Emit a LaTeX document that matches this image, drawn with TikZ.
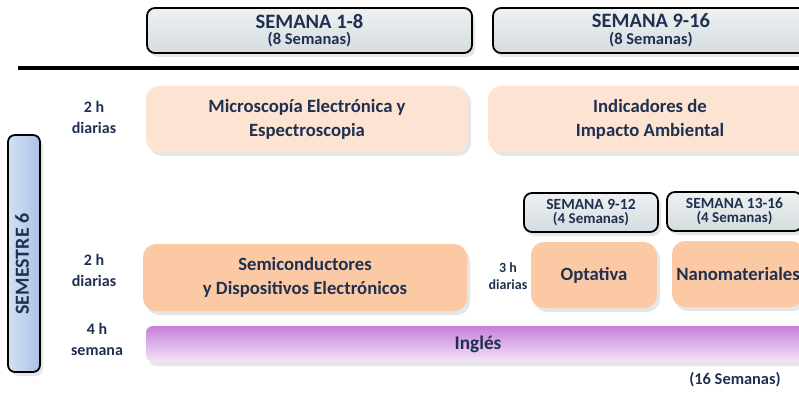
\documentclass[tikz,border=0pt]{standalone}
\usepackage{fontspec}
\setmainfont{Carlito}
\usetikzlibrary{shadows}
\definecolor{azul}{HTML}{1F3050}
\definecolor{gris1}{HTML}{EEF1F2}
\definecolor{gris2}{HTML}{D5DCDF}
\definecolor{durazno}{HTML}{FDE3D2}
\definecolor{naranja}{HTML}{FCC9A5}
\definecolor{lila1}{HTML}{C67FD9}
\definecolor{lila2}{HTML}{F4E6F8}
\definecolor{celeste1}{HTML}{D3E0F3}
\definecolor{celeste2}{HTML}{ABC2E6}
\begin{document}
\begin{tikzpicture}[x=1pt, y=-1pt,
    sombra/.style={drop shadow={opacity=0.2, shadow xshift=3pt, shadow yshift=-4pt}},
    semana/.style={draw=black, line width=1.8pt, rounded corners=8pt, top color=gris1, bottom color=gris2,
        align=center, text=azul, inner sep=0pt, sombra},
    materia/.style={rounded corners=13pt, align=center, text=azul, inner sep=0pt,
        font=\bfseries\fontsize{18.7}{24}\selectfont, sombra},
    horas/.style={align=center, text=azul, font=\bfseries\fontsize{16}{21}\selectfont}]
    \useasboundingbox (0,0) rectangle (799,393);

    % encabezados
    \node[semana, font=\bfseries\fontsize{16}{16.5}\selectfont, minimum width=325, minimum height=45] (S18) at (309.5,30.5)
        {{\fontsize{20.5}{16}\selectfont SEMANA 1-8}\\{\fontsize{16.5}{16}\selectfont (8 Semanas)}};
    \node[semana, font=\bfseries\fontsize{16}{16.5}\selectfont, minimum width=316, minimum height=45] (S916) at (651,30.5)
        {{\fontsize{20.5}{16}\selectfont SEMANA 9-16}\\{\fontsize{16.5}{16}\selectfont (8 Semanas)}};
    \draw[line width=4pt] (18,68) -- (810,68);

    % semestre
    \node[draw=black, line width=1.8pt, rounded corners=7pt, left color=celeste1, right color=celeste2,
        minimum width=32, minimum height=237, inner sep=0pt, sombra] (Sem) at (24,253.5) {};
    \node[rotate=90, text=azul, font=\bfseries\fontsize{20}{20}\selectfont] (SemTxt) at (22,264) {SEMESTRE 6};

    % materias
    \node[materia, fill=durazno, minimum width=322, minimum height=66] (Micro) at (307,119)
        {Microscopía Electrónica y\\Espectroscopia};
    \node[materia, fill=durazno, minimum width=324, minimum height=66] (Indic) at (650,119)
        {Indicadores de\\Impacto Ambiental};
    \node[semana, font=\bfseries\fontsize{14}{14}\selectfont, minimum width=134, minimum height=39] (S912) at (591,212.5)
        {{\fontsize{15.5}{14}\selectfont SEMANA 9-12}\\{\fontsize{15}{14}\selectfont (4 Semanas)}};
    \node[semana, font=\bfseries\fontsize{14}{14}\selectfont, minimum width=135, minimum height=39] (S1316) at (734.5,211.5)
        {{\fontsize{15.5}{14}\selectfont SEMANA 13-16}\\{\fontsize{15}{14}\selectfont (4 Semanas)}};
    \node[materia, fill=naranja, minimum width=324, minimum height=67] (Semi) at (305,277.5)
        {Semiconductores\\y Dispositivos Electrónicos};
    \node[materia, fill=naranja, minimum width=126, minimum height=66] (Opta) at (594,275) {Optativa};
    \node[materia, fill=naranja, minimum width=132, minimum height=66] (Nano) at (738,274) {Nanomateriales};
    \node[materia, rounded corners=7pt, top color=lila1, bottom color=lila2, minimum width=664, minimum height=36,
        font=\bfseries\fontsize{19.3}{24}\selectfont] (Ingl) at (478,344) {Inglés};

    % horas
    \node[horas] (H1) at (94,117) {2 h\\diarias};
    \node[horas] (H2) at (94,270) {2 h\\diarias};
    \node[horas, font=\bfseries\fontsize{14}{17}\selectfont] (H3) at (508,276) {3 h\\diarias};
    \node[horas] (H4) at (97,339) {4 h\\semana};
    \node[horas, font=\bfseries\fontsize{16.4}{20}\selectfont] (Total) at (735,380) {(16 Semanas)};
\end{tikzpicture}
\end{document}
